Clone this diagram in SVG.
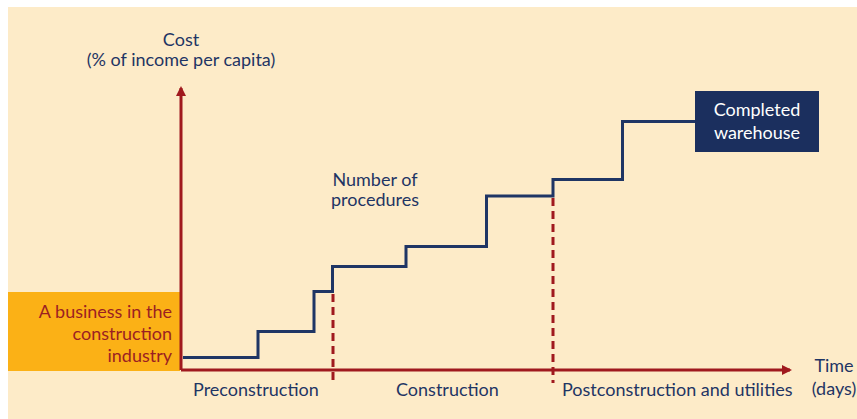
<svg xmlns="http://www.w3.org/2000/svg" width="857" height="419" viewBox="0 0 857 419">
<style>
.t{font-family:Lato,"Open Sans","Liberation Sans",sans-serif;font-size:18px;fill:#1F3564}
.r{fill:#9B1F22}
.w{fill:#FFFFFF}
.axis{stroke:#A0191E;stroke-width:3;fill:none}
.dash{stroke:#A0191E;stroke-width:3;stroke-dasharray:8 5;fill:none}
.step{stroke:#1F3564;stroke-width:3;fill:none}
</style>
<defs>
<marker id="ah" markerWidth="10" markerHeight="10" refX="8" refY="5" orient="auto" markerUnits="userSpaceOnUse">
<path d="M0,0 L10,5 L0,10 Z" fill="#A0191E"/>
</marker>
</defs>
<rect x="0" y="0" width="857" height="419" fill="#FFFFFF"/>
<rect x="8" y="7" width="849" height="412" fill="#FDEBC8"/>
<g id="business">
<rect x="8" y="292" width="172" height="79" fill="#FBB116"/>
<text class="t r" text-anchor="end" x="172" y="318">A business in the</text>
<text class="t r" text-anchor="end" x="172" y="340">construction</text>
<text class="t r" text-anchor="end" x="172" y="362">industry</text>
</g>
<g id="warehouse">
<rect x="695" y="91" width="124" height="61" fill="#1B2F5E"/>
<text class="t w" text-anchor="middle" x="757" y="116">Completed</text>
<text class="t w" text-anchor="middle" x="757" y="139">warehouse</text>
</g>
<g id="connectors">
<path class="axis" d="M181,370 V88" marker-end="url(#ah)"/>
<path class="axis" d="M181,370 H790" marker-end="url(#ah)"/>
<path class="dash" d="M333,294 V383"/>
<path class="dash" d="M553,198 V383"/>
<path class="step" d="M183,357.5 H258 V331.5 H314 V291.5 H332.5 V266.5 H406 V246.5 H486.5 V196 H553 V179.5 H622.5 V121.5 H695"/>
</g>
<g id="labels">
<text class="t" text-anchor="middle" x="181" y="46">Cost</text>
<text class="t" text-anchor="middle" x="181" y="66">(% of income per capita)</text>
<text class="t" text-anchor="middle" x="375" y="186">Number of</text>
<text class="t" text-anchor="middle" x="375" y="206">procedures</text>
<text class="t" x="193" y="396">Preconstruction</text>
<text class="t" x="396" y="396">Construction</text>
<text class="t" x="562" y="396">Postconstruction and utilities</text>
<text class="t" text-anchor="middle" x="834" y="372">Time</text>
<text class="t" text-anchor="middle" x="834" y="395">(days)</text>
</g>
</svg>
